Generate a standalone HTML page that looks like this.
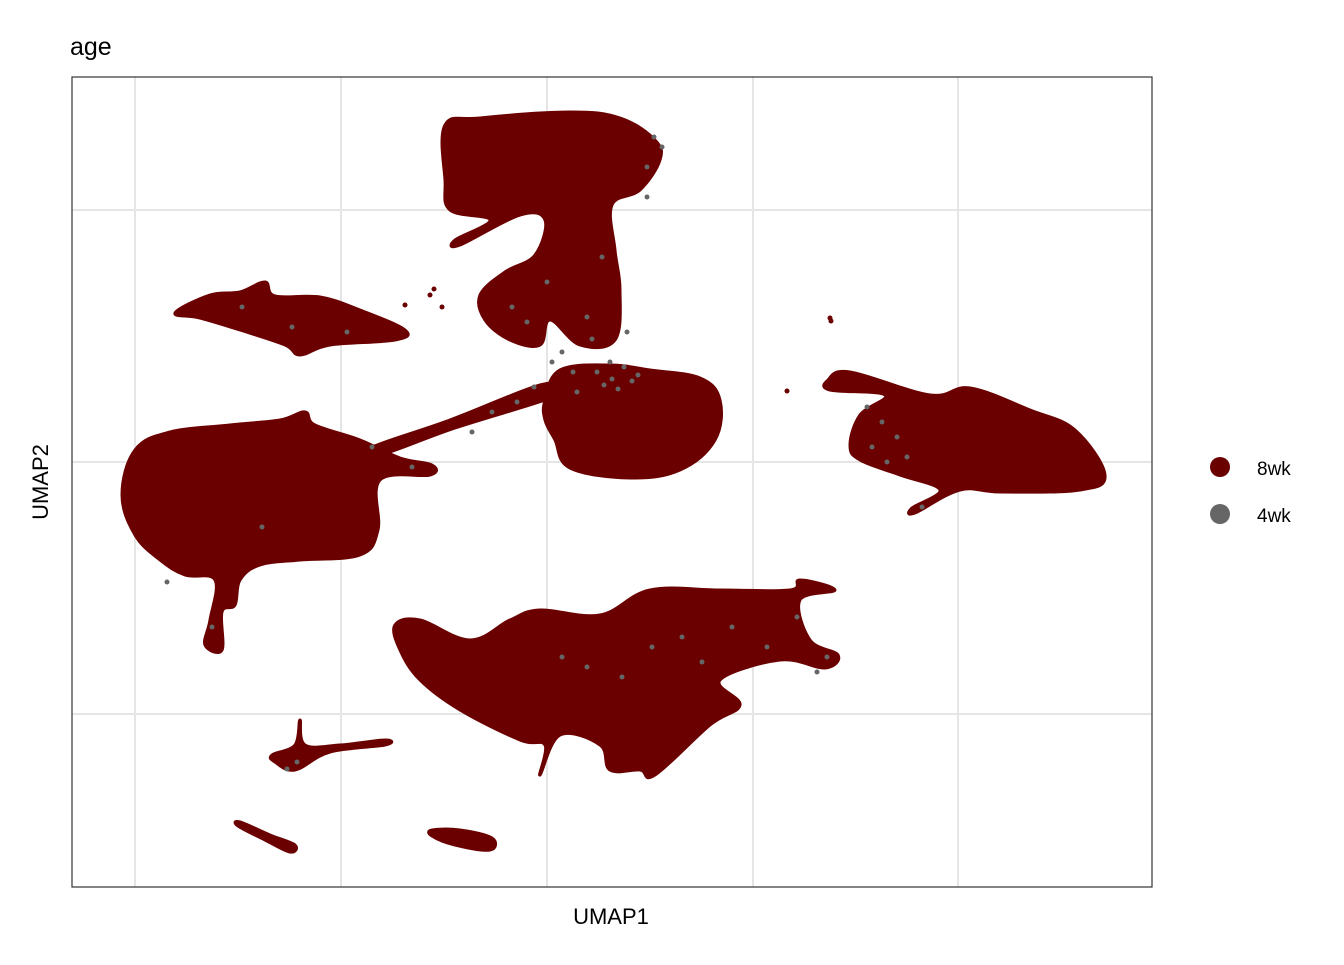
<!DOCTYPE html>
<html><head><meta charset="utf-8"><style>
body{margin:0;background:#fff;}
svg text{font-family:"Liberation Sans",Arial,sans-serif;}
</style></head><body>
<svg id="chart" width="1344" height="960" viewBox="0 0 1344 960" xmlns="http://www.w3.org/2000/svg">
<rect width="1344" height="960" fill="#fff"/>
<text x="70" y="55" font-size="25" fill="#000">age</text>
<g id="grid"></g>
<g id="clusters"></g>
<g id="greys"></g>
<rect x="72" y="77" width="1080" height="810" fill="none" stroke="#333" stroke-width="1.2"/>
<text x="611" y="924" font-size="22" text-anchor="middle">UMAP1</text>
<text x="48" y="482" font-size="22" text-anchor="middle" transform="rotate(-90 48 482)">UMAP2</text>
<g>
<g><circle cx="1220" cy="467" r="10" fill="#6B0000"/><text x="1257" y="475" font-size="19">8wk</text></g>
<g><circle cx="1220" cy="514" r="10" fill="#666666"/><text x="1257" y="522" font-size="19">4wk</text></g>
</g>
</svg>
<script>
const xGrid=[6.3,26.9,47.5,68.1,88.6];
const yGrid=[17.3,42.5,67.7];
const clusterNames=['left','bridge','middle','top','right','topleft','bottom','small-g','small-h','small-i'];
const clusterLeft=[[5.0,39.2],[6.3,43.7],[9.8,45.5],[15.8,46.2],[20.8,46.7],[23.3,47.5],[24.3,46.2],[28.8,44.7],[32.8,42.9],[36.0,42.2],[35.8,41.2],[30.8,40.7],[30.6,35.7],[28.8,33.2],[22.8,32.7],[18.8,32.2],[16.8,30.7],[16.3,28.2],[15.0,27.5],[15.0,23.7],[13.3,24.2],[13.8,26.7],[14.3,30.7],[11.3,31.2],[8.8,32.7],[6.3,35.2]];
const clusterBridge=[[29.8,43.9],[37.8,46.7],[46.8,50.2],[48.8,49.7],[47.3,48.7],[38.3,45.9],[30.8,43.2]];
const clusterMiddle=[[47.3,48.7],[48.8,51.7],[53.8,52.2],[57.8,51.7],[62.8,50.9],[64.8,48.7],[64.3,44.7],[60.8,41.7],[55.8,40.9],[49.8,41.9],[48.3,44.7],[47.3,46.7]];
const clusterTop=[[37.3,76.2],[40.8,76.9],[49.8,77.5],[54.8,76.9],[58.3,74.7],[58.8,72.7],[56.8,69.7],[54.0,68.2],[54.3,63.7],[54.8,59.7],[54.3,54.7],[50.8,54.2],[47.8,56.7],[46.8,54.2],[43.8,54.7],[41.3,56.7],[40.8,59.2],[43.3,61.5],[46.3,63.2],[47.3,66.7],[44.8,67.2],[38.8,64.2],[38.3,64.7],[41.8,66.7],[37.8,67.7],[37.3,70.7]];
const clusterRight=[[77.8,44.2],[78.8,47.2],[81.3,49.2],[75.8,49.7],[75.6,50.7],[77.8,51.5],[85.8,49.2],[89.8,49.9],[95.8,47.7],[100.3,45.7],[103.3,41.2],[100.8,39.7],[92.8,39.5],[88.8,39.7],[84.3,37.4],[84.0,37.9],[86.8,39.7],[82.8,41.2],[78.8,42.7]];
const clusterTopLeft=[[10.3,57.4],[13.8,59.2],[16.8,59.5],[19.3,60.5],[20.3,59.1],[24.8,59.0],[28.8,57.7],[33.3,55.7],[32.3,54.7],[25.8,54.2],[22.8,53.2],[21.3,54.2],[16.8,55.7],[12.8,56.9]];
const clusterBottom=[[32.3,26.2],[34.8,26.7],[39.8,24.7],[43.8,26.7],[46.8,27.7],[52.8,27.2],[57.8,29.7],[64.8,29.7],[71.8,29.7],[72.8,30.7],[76.3,29.7],[72.8,28.7],[73.8,24.7],[76.6,23.2],[75.3,21.9],[70.8,22.7],[64.8,20.7],[66.8,18.2],[63.8,16.2],[58.3,11.2],[56.8,11.7],[53.8,11.7],[52.8,14.2],[48.8,15.2],[46.8,11.2],[47.3,14.2],[44.8,14.7],[38.8,17.7],[34.8,20.7],[32.8,23.7]];
const clusterG=[[20.0,13.2],[22.3,14.2],[22.8,16.7],[23.3,14.2],[26.8,14.2],[31.3,14.7],[31.3,14.2],[25.8,13.5],[22.3,11.7],[20.3,12.5]];
const clusterH=[[16.8,6.5],[19.8,5.2],[22.3,4.2],[21.8,3.5],[19.3,4.7],[16.6,6.1]];
const clusterI=[[36.0,5.7],[38.8,5.7],[42.0,4.9],[41.8,3.7],[38.3,4.2],[36.0,5.1]];
const redDotsX=[75.8,75.9,35.8,36.2,33.3,37.0,71.5,66.5];
const redDotsY=[56.9,56.6,59.2,59.8,58.2,58.0,49.6,18.0];
const greyX=[52.5,53.8,55.2,56.6,54.0,50.1,49.0,51.5,45.5,44.0,47.5,53.0,57.5,59.0,81.0,82.5,80.0,83.5,81.5,79.5,85.0,49.0,51.5,55.0,58.0,61.0,63.0,66.0,69.5,72.5,75.5,74.5,17.0,22.0,27.5,30.0,34.0,22.5,21.5,14.0,9.5,58.2,57.5,44.5,42.0,19.0,40.0,53.2,54.6,56.0,50.5,48.0,46.2,52.0,55.5];
const greyY=[51.5,52.5,52.0,51.2,50.8,51.5,53.5,57.0,56.5,58.0,60.5,63.0,72.0,74.0,46.5,45.0,44.0,43.0,42.5,48.0,38.0,23.0,22.0,21.0,24.0,25.0,22.5,26.0,24.0,27.0,23.0,21.5,58.0,56.0,55.5,44.0,42.0,12.5,11.8,26.0,30.5,75.0,69.0,48.5,47.5,36.0,45.5,50.2,49.8,50.6,49.5,52.5,50.0,54.8,55.5];
const clusters=[clusterLeft,clusterBridge,clusterMiddle,clusterTop,clusterRight,clusterTopLeft,clusterBottom,clusterG,clusterH,clusterI];
const X0=72,Y0=887;
function xs(u){return X0+u*10;}
function ys(v){return Y0-v*10;}
function smoothPath(pts){
  const n=pts.length,t=0.18;let d='M'+pts[0][0]+','+pts[0][1];
  for(let i=0;i<n;i++){const p0=pts[(i-1+n)%n],p1=pts[i],p2=pts[(i+1)%n],p3=pts[(i+2)%n];
    const c1x=p1[0]+(p2[0]-p0[0])*t,c1y=p1[1]+(p2[1]-p0[1])*t,c2x=p2[0]-(p3[0]-p1[0])*t,c2y=p2[1]-(p3[1]-p1[1])*t;
    d+='C'+c1x.toFixed(1)+','+c1y.toFixed(1)+' '+c2x.toFixed(1)+','+c2y.toFixed(1)+' '+p2[0]+','+p2[1];}
  return d+'Z';}
const NS='http://www.w3.org/2000/svg';
const grid=document.getElementById('grid');
xGrid.forEach(function(u){const l=document.createElementNS(NS,'line');l.setAttribute('x1',xs(u));l.setAttribute('x2',xs(u));l.setAttribute('y1',77);l.setAttribute('y2',887);l.setAttribute('stroke','#e5e5e5');l.setAttribute('stroke-width','2');


grid.appendChild(l);});
yGrid.forEach(function(v){const l=document.createElementNS(NS,'line');l.setAttribute('y1',ys(v));l.setAttribute('y2',ys(v));l.setAttribute('x1',72);l.setAttribute('x2',1152);l.setAttribute('stroke','#e5e5e5');l.setAttribute('stroke-width','2');


grid.appendChild(l);});
const cg=document.getElementById('clusters');
clusters.forEach(function(poly,i){const p=document.createElementNS(NS,'path');p.setAttribute('d',smoothPath(poly.map(function(q){return [xs(q[0]),ys(q[1])];})));p.setAttribute('fill','#6B0000');p.setAttribute('stroke','#6B0000');p.setAttribute('stroke-width','3');p.setAttribute('stroke-linejoin','round');


cg.appendChild(p);});
redDotsX.forEach(function(u,i){const c=document.createElementNS(NS,'circle');c.setAttribute('cx',xs(u));c.setAttribute('cy',ys(redDotsY[i]));c.setAttribute('r',2.5);c.setAttribute('fill','#6B0000');


cg.appendChild(c);});
const gg=document.getElementById('greys');
greyX.forEach(function(u,i){const c=document.createElementNS(NS,'circle');c.setAttribute('cx',xs(u));c.setAttribute('cy',ys(greyY[i]));c.setAttribute('r',2.5);c.setAttribute('fill','#666666');


gg.appendChild(c);});
</script>
</body></html>
